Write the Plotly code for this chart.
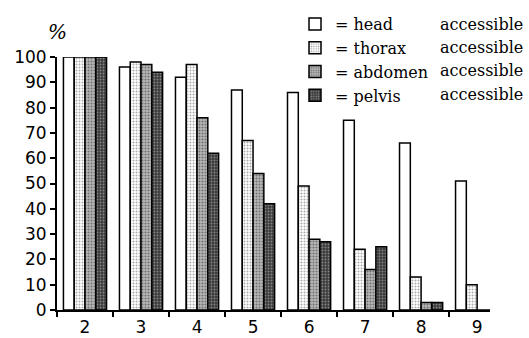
import plotly.graph_objects as go

categories = ["2", "3", "4", "5", "6", "7", "8", "9"]
head = [100, 96, 92, 87, 86, 75, 66, 51]
thorax = [100, 98, 97, 67, 49, 24, 13, 10]
abdomen = [100, 97, 76, 54, 28, 16, 3, 0]
pelvis = [100, 94, 62, 42, 27, 25, 3, 0]
series_names = ["= head", "= thorax", "= abdomen", "= pelvis"]
y_ticks = list(range(0, 101, 10))

W, H = 529, 338
ML, MR, MT, MB = 57, 39, 57, 28
PW, PH = W - ML - MR, H - MT - MB

def px_x(x):
    return (x - ML) / PW

def px_y(y):
    return (H - MB - y) / PH

styles = [
    dict(pattern=dict(shape="", bgcolor="white")),
    dict(pattern=dict(shape=".", bgcolor="white", fgcolor="#555555", size=3, solidity=0.35)),
    dict(pattern=dict(shape=".", bgcolor="#b8b8b8", fgcolor="#2a2a2a", size=3, solidity=0.4)),
    dict(pattern=dict(shape=".", bgcolor="#3a3a3a", fgcolor="#cfcfcf", size=3, solidity=0.3)),
]

fig = go.Figure()
for name, vals, st in zip(series_names, [head, thorax, abdomen, pelvis], styles):
    fig.add_trace(go.Bar(
        x=categories, y=vals, name=name, legendgroup=name,
        marker=dict(color="white", line=dict(color="black", width=1.5), pattern=st["pattern"]),
        cliponaxis=False,
    ))

serif = "DejaVu Serif"
sans = "DejaVu Sans"

annotations = [
    dict(text="%", x=px_x(57), y=px_y(32), xref="paper", yref="paper", showarrow=False,
         xanchor="center", yanchor="middle",
         font=dict(family=serif, size=20, color="black", style="italic")),
]
for yy in [24, 47, 70, 94]:
    annotations.append(dict(text="accessible", x=px_x(525), y=px_y(yy), xref="paper", yref="paper",
                            xanchor="right", yanchor="middle", showarrow=False,
                            font=dict(family=serif, size=16, color="black")))

fig.update_layout(
    width=W, height=H, autosize=False,
    margin=dict(l=ML, r=MR, t=MT, b=MB, autoexpand=False),
    paper_bgcolor="white", plot_bgcolor="white",
    barmode="group", bargap=0.23, bargroupgap=0,
    showlegend=True,
    legend=dict(x=px_x(295), y=px_y(7), xanchor="left", yanchor="top",
                font=dict(family=serif, size=16, color="black"),
                bgcolor="rgba(0,0,0,0)", tracegroupgap=0),
    annotations=annotations,
    xaxis=dict(type="category", range=[-0.5, 7.23], tickson="boundaries",
               ticks="outside", ticklen=5, tickwidth=1.5, tickcolor="black",
               ticklabelstandoff=1,
               showline=True, linewidth=2, linecolor="black", showgrid=False,
               tickfont=dict(family=sans, size=17, color="black")),
    yaxis=dict(range=[0, 100], tickvals=y_ticks, ticks="outside", ticklen=5, tickwidth=1.5,
               tickcolor="black", showline=True, linewidth=2, linecolor="black",
               showgrid=False, zeroline=False,
               tickfont=dict(family=sans, size=17, color="black")),
)

fig.write_html("out.html", config={"displayModeBar": False},
               post_script="document.body.style.margin='0';")
